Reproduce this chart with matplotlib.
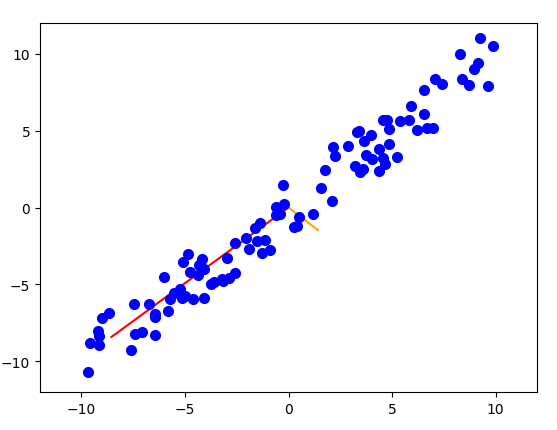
import matplotlib
matplotlib.use("Agg")
import matplotlib.pyplot as plt
import numpy as np

# scatter points
x = [9.27, 9.89, 8.30, 9.14, 8.97, 8.38, 8.73, 9.65, 7.09, 7.43,
     6.55, 5.92, 6.55, 4.58, 4.78, 5.39, 5.83, 4.86, 6.20, 6.68,
     7.00, 3.29, 3.42, 3.97, 3.65, 2.15, 2.87, 2.24, 4.37, 4.86,
     3.74, 4.02, 4.58, 5.23, 4.67, 3.20, 3.62, 3.44, 4.37, 1.76,
     1.55, 2.08, -0.26, -0.23, -0.39, 0.50, 1.18, 0.26, 0.39,
     -9.70, -9.59, -9.14, -9.19, -9.14, -9.00, -8.65, -7.59, -7.39, -7.06,
     -7.47, -6.72, -6.43, -6.47, -6.43, -5.99, -5.80, -5.70, -5.55, -5.26,
     -5.15, -5.02, -4.63, -4.10, -5.10, -4.83, -4.78, -4.39, -4.20, -4.31,
     -4.07, -3.74, -3.58, -3.21, -3.16, -2.89, -2.60, -2.97, -2.60, -2.05,
     -1.92, -1.63, -1.40, -1.52, -1.15, -1.27, -0.91, -0.58, -0.58]
y = [11.02, 10.52, 10.00, 9.39, 9.00, 8.36, 7.99, 7.92, 8.36, 8.03,
     7.66, 6.62, 6.08, 5.71, 5.71, 5.65, 5.71, 5.13, 5.06, 5.17,
     5.17, 4.91, 5.00, 4.74, 4.33, 3.94, 4.03, 3.38, 3.83, 4.13,
     3.40, 3.18, 3.22, 3.31, 2.86, 2.68, 2.53, 2.31, 2.40, 2.47,
     1.28, 0.45, 1.49, 0.26, -0.45, -0.61, -0.45, -1.25, -1.21,
     -10.67, -8.79, -8.96, -8.03, -8.36, -7.16, -6.84, -9.24, -8.25, -8.10,
     -6.25, -6.25, -8.31, -7.12, -6.95, -4.50, -6.75, -5.97, -5.54, -5.32,
     -5.87, -5.76, -5.97, -5.91, -3.53, -3.01, -4.18, -4.39, -3.33, -3.75,
     -3.98, -4.95, -4.85, -4.68, -4.78, -4.57, -4.29, -3.27, -2.29, -1.97,
     -2.68, -1.36, -1.04, -2.19, -2.12, -2.94, -2.77, -0.52, 0.05]

# the two line segments
red_x = [-8.55, 0.0]
red_y = [-8.42, 0.0]
orange_x = [0.0, 1.42]
orange_y = [0.0, -1.47]

fig = plt.figure(figsize=(5.57, 4.31), dpi=100)
ax = fig.add_axes([40 / 557, 38 / 431, 497 / 557, 369 / 431])
# lines first so the points sit on top of them
ax.plot(red_x, red_y, color='red')
ax.plot(orange_x, orange_y, color='orange')
ax.plot(x, y, 'o', color='blue', markersize=7)
ax.set_xlim(-12, 12)
ax.set_ylim(-12, 12)
fig.savefig("out.png")
